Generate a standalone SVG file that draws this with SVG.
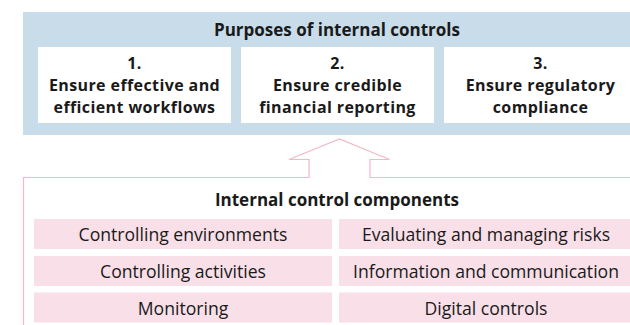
<svg xmlns="http://www.w3.org/2000/svg" width="630" height="325" viewBox="0 0 630 325">
<style>
.t{font-family:"Open Sans","Liberation Sans",sans-serif;fill:#1a1a1a;text-anchor:middle}
.b{font-weight:bold;font-size:17px}
.bb{font-weight:bold;font-size:16px;letter-spacing:0.4px}
.r{font-size:17.6px}
.wb{fill:#ffffff}
.pk{fill:#f9dfe8}
</style>
<rect x="0" y="0" width="630" height="325" fill="#ffffff"/>
<g id="purposes">
<rect x="23" y="12" width="607" height="123" fill="#c8dcea"/>
<text class="t b" x="337" y="36">Purposes of internal controls</text>
</g>
<g id="purpose1">
<rect class="wb" x="38" y="47" width="193" height="76"/>
<text class="t bb" x="134.5" y="69.2">1.</text>
<text class="t bb" x="134.5" y="91">Ensure effective and</text>
<text class="t bb" x="134.5" y="112.8">efficient workflows</text>
</g>
<g id="purpose2">
<rect class="wb" x="241" y="47" width="193" height="76"/>
<text class="t bb" x="337.5" y="69.2">2.</text>
<text class="t bb" x="337.5" y="91">Ensure credible</text>
<text class="t bb" x="337.5" y="112.8">financial reporting</text>
</g>
<g id="purpose3">
<rect class="wb" x="444" y="47" width="193" height="76"/>
<text class="t bb" x="540.5" y="69.2">3.</text>
<text class="t bb" x="540.5" y="91">Ensure regulatory</text>
<text class="t bb" x="540.5" y="112.8">compliance</text>
</g>
<g id="connectors">
<path d="M23.5,325 V177.5 H309 V159.5 H289 L339.5,139 L389.5,159.5 H370 V177.5 H630" fill="none" stroke="#f5b8c6" stroke-width="1.2"/>
</g>
<g id="components">
<text class="t b" x="337" y="206">Internal control components</text>
</g>
<g id="c1"><rect class="pk" x="34" y="219" width="298" height="30"/><text class="t r" x="183" y="241">Controlling environments</text></g>
<g id="c2"><rect class="pk" x="339" y="219" width="294" height="30"/><text class="t r" x="486" y="241">Evaluating and managing risks</text></g>
<g id="c3"><rect class="pk" x="34" y="256" width="298" height="30"/><text class="t r" x="183" y="278">Controlling activities</text></g>
<g id="c4"><rect class="pk" x="339" y="256" width="294" height="30"/><text class="t r" x="486" y="278">Information and communication</text></g>
<g id="c5"><rect class="pk" x="34" y="292.5" width="298" height="30"/><text class="t r" x="183" y="314.5">Monitoring</text></g>
<g id="c6"><rect class="pk" x="339" y="292.5" width="294" height="30"/><text class="t r" x="486" y="314.5">Digital controls</text></g>
</svg>
